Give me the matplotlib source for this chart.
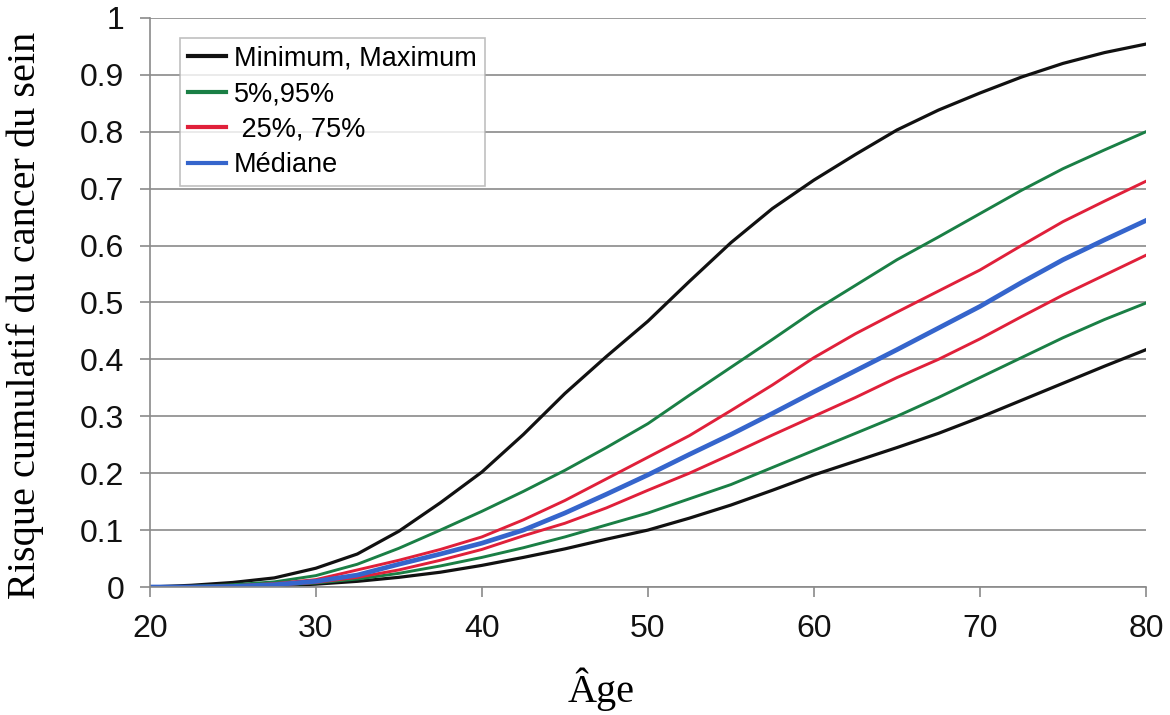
import matplotlib.pyplot as plt

# ages (years) and cumulative breast cancer risk curves
ages = [20, 22.5, 25, 27.5, 30, 32.5, 35, 37.5, 40, 42.5, 45, 47.5, 50,
        52.5, 55, 57.5, 60, 62.5, 65, 67.5, 70, 72.5, 75, 77.5, 80]
r_max = [0, 0.003, 0.008, 0.016, 0.033, 0.058, 0.098, 0.148, 0.202, 0.268, 0.34, 0.405, 0.467,
         0.537, 0.605, 0.665, 0.715, 0.76, 0.803, 0.838, 0.868, 0.896, 0.92, 0.939, 0.954]
r_p95 = [0, 0.001, 0.004, 0.009, 0.02, 0.04, 0.068, 0.1, 0.133, 0.168, 0.205, 0.245, 0.287,
         0.337, 0.386, 0.435, 0.485, 0.53, 0.575, 0.615, 0.656, 0.697, 0.735, 0.768, 0.8]
r_p75 = [0, 0.0005, 0.002, 0.006, 0.013, 0.03, 0.047, 0.066, 0.088, 0.118, 0.152, 0.19, 0.228,
         0.266, 0.31, 0.355, 0.403, 0.445, 0.483, 0.52, 0.557, 0.6, 0.642, 0.678, 0.713]
r_med = [0, 0, 0.001, 0.004, 0.01, 0.021, 0.04, 0.058, 0.077, 0.1, 0.13, 0.163, 0.197,
         0.233, 0.268, 0.305, 0.343, 0.38, 0.417, 0.455, 0.493, 0.535, 0.575, 0.61, 0.644]
r_p25 = [0, 0, 0.001, 0.003, 0.008, 0.017, 0.03, 0.047, 0.066, 0.09, 0.112, 0.139, 0.17,
         0.2, 0.233, 0.267, 0.3, 0.333, 0.368, 0.4, 0.436, 0.475, 0.513, 0.548, 0.583]
r_p5 = [0, 0, 0.001, 0.003, 0.007, 0.014, 0.024, 0.037, 0.052, 0.069, 0.088, 0.109, 0.13,
        0.155, 0.18, 0.21, 0.24, 0.27, 0.3, 0.333, 0.368, 0.403, 0.438, 0.47, 0.499]
r_min = [0, 0, 0.001, 0.002, 0.005, 0.01, 0.017, 0.026, 0.038, 0.052, 0.067, 0.084, 0.1,
         0.121, 0.144, 0.17, 0.197, 0.221, 0.245, 0.27, 0.298, 0.328, 0.358, 0.388, 0.417]

y_ticks = [0, 0.1, 0.2, 0.3, 0.4, 0.5, 0.6, 0.7, 0.8, 0.9, 1]
y_labels = ["0", "0.1", "0.2", "0.3", "0.4", "0.5", "0.6", "0.7", "0.8", "0.9", "1"]
x_ticks = [20, 30, 40, 50, 60, 70, 80]

BLACK = "#111111"
GREEN = "#1a7f45"
RED = "#e0203a"
BLUE = "#3565cc"
SERIF = ["Liberation Serif", "DejaVu Serif"]

plt.rcParams['font.family'] = ['Liberation Sans', 'DejaVu Sans']
fig = plt.figure(figsize=(11.7, 7.15), dpi=100)
ax = fig.add_axes([0.128, 0.179, 0.8515, 0.796])

ax.plot(ages, r_max, color=BLACK, lw=2.3, label="Minimum, Maximum")
ax.plot(ages, r_min, color=BLACK, lw=2.3)
ax.plot(ages, r_p95, color=GREEN, lw=2.1, label="5%,95%")
ax.plot(ages, r_p5, color=GREEN, lw=2.1)
ax.plot(ages, r_p75, color=RED, lw=2.1, label=" 25%, 75%")
ax.plot(ages, r_p25, color=RED, lw=2.1)
ax.plot(ages, r_med, color=BLUE, lw=3.4, label="Médiane")

ax.set_xlim(20, 80)
ax.set_ylim(0, 1)
ax.set_yticks(y_ticks)
ax.set_yticklabels(y_labels)
ax.set_xticks(x_ticks)
ax.yaxis.grid(True, color="#8a8a8a", lw=1.2)
ax.set_axisbelow(True)
for s in ["top", "right"]:
    ax.spines[s].set_visible(False)
for s in ["left", "bottom"]:
    ax.spines[s].set_color("#8a8a8a")
    ax.spines[s].set_linewidth(1.2)
ax.tick_params(axis="both", colors="#8a8a8a", length=7.2, width=1.2,
               labelsize=23, labelcolor="#111111")
ax.tick_params(axis="y", pad=11)
ax.tick_params(axis="x", pad=12)

ax.set_xlabel("Âge", family=SERIF, fontsize=29)
ax.xaxis.set_label_coords(0.453, -0.141)
ax.set_ylabel("Risque cumulatif du cancer du sein", family=SERIF, fontsize=29)
ax.yaxis.set_label_coords(-0.106, 0.478)

leg = ax.legend(loc="upper left", bbox_to_anchor=(0.03, 0.965), fontsize=19.5,
                frameon=True, fancybox=False, handlelength=1.4, handletextpad=0.3,
                borderpad=0.3, labelspacing=0.35, borderaxespad=0)
leg.get_frame().set_edgecolor("#b0b0b0")
leg.get_frame().set_linewidth(1.2)
for line in leg.get_lines():
    line.set_linewidth(3)

fig.savefig("out.png", dpi=100)
